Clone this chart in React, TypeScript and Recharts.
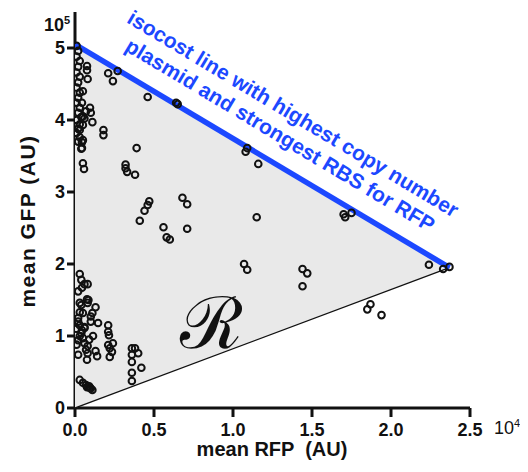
import React from 'react'
import { ScatterChart, Scatter, XAxis, YAxis } from 'recharts'

// RFP in units of 10^4, GFP in units of 10^5
const xTicks = [0, 0.5, 1, 1.5, 2, 2.5]
const yTicks = [0, 1, 2, 3, 4, 5]

// isocost corners
const isoTop = { x: 0, y: 5.05 }
const isoEnd = { x: 2.37, y: 1.95 }
const origin = { x: 0, y: 0 }

const nearAxisHigh: [number, number][] = [
  [0.01, 5.03], [0.02, 4.96], [0.01, 4.88], [0.03, 4.82], [0.02, 4.74], [0.01, 4.66],
  [0.03, 4.6], [0.02, 4.52], [0.01, 4.45], [0.03, 4.38], [0.02, 4.31], [0.01, 4.24],
  [0.03, 4.17], [0.02, 4.1], [0.04, 4.04], [0.01, 4.0], [0.03, 3.94], [0.02, 3.88],
  [0.01, 3.82], [0.03, 3.76], [0.02, 3.7], [0.076, 4.75], [0.076, 4.69], [0.08, 4.57],
  [0.05, 4.4], [0.044, 4.24], [0.095, 4.17], [0.1, 4.1], [0.11, 3.97], [0.05, 3.93],
  [0.03, 3.86], [0.05, 3.72], [0.044, 3.61], [0.044, 3.69], [0.04, 3.6], [0.05, 3.4],
  [0.057, 3.32], [0.06, 4.02], [0.07, 4.12], [0.05, 4.05],
]

const upperMid: [number, number][] = [
  [0.21, 4.65], [0.27, 4.68], [0.24, 4.54], [0.46, 4.32], [0.64, 4.24], [0.65, 4.22],
  [0.18, 3.86], [0.18, 3.79], [0.39, 3.61], [0.32, 3.38], [0.32, 3.33], [0.33, 3.28],
  [0.38, 3.24], [0.47, 2.87], [0.46, 2.82], [0.44, 2.74], [0.41, 2.6], [0.68, 2.92],
  [0.71, 2.83], [0.56, 2.51], [0.58, 2.37], [0.6, 2.34], [0.71, 2.49],
]

const rightSide: [number, number][] = [
  [1.09, 3.61], [1.08, 3.56], [1.16, 3.39], [1.15, 2.65], [1.07, 2.0], [1.09, 1.92],
  [1.44, 1.93], [1.47, 1.87], [1.44, 1.69], [1.7, 2.69], [1.71, 2.65], [1.75, 2.71],
  [2.24, 1.99], [2.33, 1.93], [2.37, 1.96], [1.87, 1.44], [1.85, 1.37], [1.94, 1.29],
]

const nearAxisLow: [number, number][] = [
  [0.03, 1.86], [0.04, 1.78], [0.08, 1.72], [0.044, 1.67], [0.06, 1.72], [0.02, 1.62],
  [0.076, 1.51], [0.08, 1.46], [0.03, 1.46], [0.13, 1.4], [0.03, 1.33], [0.04, 1.43],
  [0.05, 1.32], [0.11, 1.32], [0.02, 1.25], [0.146, 1.18], [0.21, 1.15], [0.21, 1.06],
  [0.215, 1.01], [0.24, 0.9], [0.21, 0.875], [0.22, 0.83], [0.234, 0.78], [0.22, 0.71],
  [0.114, 1.0], [0.08, 0.86], [0.07, 0.81], [0.08, 0.76], [0.076, 0.67], [0.13, 0.79],
  [0.14, 0.72], [0.36, 0.83], [0.38, 0.83], [0.4, 0.76], [0.36, 0.74], [0.36, 0.64],
  [0.42, 0.56], [0.36, 0.49], [0.36, 0.375], [0.03, 0.39], [0.05, 0.35], [0.076, 0.29],
  [0.095, 0.28], [0.11, 0.25], [0.044, 1.08], [0.06, 1.125], [0.06, 1.11], [0.04, 1.04],
  [0.05, 0.97], [0.02, 1.2], [0.02, 0.94], [0.02, 0.74], [0.03, 1.15], [0.01, 1.1],
  [0.03, 1.0], [0.01, 0.88], [0.06, 0.9], [0.09, 0.95], [0.1, 1.2], [0.1, 1.27],
  [0.085, 1.5], [0.07, 0.32], [0.09, 0.3], [0.1, 0.27],
]

const points = [...nearAxisHigh, ...upperMid, ...rightSide, ...nearAxisLow].map(
  ([x, y]) => ({ x, y })
)
const region = [origin, isoTop, isoEnd]
const isocost = [isoTop, isoEnd]
const lowerEdge = [origin, isoEnd]

const BLUE = '#1c48ff'
const FONT = '"Liberation Sans", Arial, sans-serif'

const Ring = (props: any) => {
  const { cx, cy } = props
  if (cx == null || cy == null) return <g />
  return <circle cx={cx} cy={cy} r={3.3} fill="none" stroke="#111" strokeWidth={2} />
}

const NoDot = () => <g />

export default function App() {
  const tickStyle = { fill: '#111', fontSize: 18, fontWeight: 700, fontFamily: FONT }
  return (
    <div style={{ position: 'relative', width: 520, height: 464, fontFamily: FONT }}>
      <ScatterChart
        width={520}
        height={464}
        margin={{ top: 4, right: 58, left: 0, bottom: 0 }}
      >
        <XAxis
          type="number"
          dataKey="x"
          domain={[0, 2.5]}
          ticks={xTicks}
          tickFormatter={(v: number) => v.toFixed(1)}
          height={64}
          stroke="#111"
          strokeWidth={3}
          tickSize={9}
          tickMargin={6}
          tick={tickStyle}
          allowDataOverflow
        />
        <YAxis
          type="number"
          dataKey="y"
          domain={[0, 5.5]}
          ticks={yTicks}
          width={67}
          stroke="#111"
          strokeWidth={3}
          tickSize={8}
          tickMargin={2}
          tick={tickStyle}
          allowDataOverflow
        />
        <Scatter
          data={region}
          isAnimationActive={false}
          line={{ fill: '#e9e9e9', stroke: 'none' }}
          lineType="joint"
          shape={<NoDot />}
        />
        <Scatter
          data={lowerEdge}
          isAnimationActive={false}
          line={{ stroke: '#111', strokeWidth: 1.3, fill: 'none' }}
          lineType="joint"
          shape={<NoDot />}
        />
        <Scatter
          data={isocost}
          isAnimationActive={false}
          line={{ stroke: BLUE, strokeWidth: 5.5, fill: 'none' }}
          lineType="joint"
          shape={<NoDot />}
        />
        <Scatter data={points} isAnimationActive={false} shape={<Ring />} />
      </ScatterChart>

      <div
        style={{
          position: 'absolute',
          left: 120,
          top: -8,
          width: 400,
          transform: 'rotate(30.9deg)',
          transformOrigin: '0 0',
          textAlign: 'center',
          fontSize: 21,
          fontWeight: 700,
          lineHeight: '25px',
          color: BLUE,
          whiteSpace: 'nowrap',
        }}
      >
        isocost line with highest copy number
        <br />
        plasmid and strongest RBS for RFP
      </div>

      <div
        style={{
          position: 'absolute',
          left: 148,
          top: 280,
          width: 110,
          textAlign: 'center',
          fontSize: 72,
          lineHeight: '70px',
          fontFamily: '"DejaVu Serif", serif',
          color: '#111',
        }}
      >
        ℛ
      </div>

      <div
        style={{
          position: 'absolute',
          left: 20,
          top: 213,
          width: 0,
          height: 0,
        }}
      >
        <div
          style={{
            position: 'absolute',
            left: -110,
            top: -13,
            width: 220,
            textAlign: 'center',
            transform: 'rotate(-90deg)',
            fontSize: 21,
            fontWeight: 700,
            letterSpacing: 1.5,
            lineHeight: '26px',
            whiteSpace: 'nowrap',
            color: '#111',
          }}
        >
          mean GFP (AU)
        </div>
      </div>

      <div
        style={{
          position: 'absolute',
          left: 164,
          top: 430,
          width: 200,
          textAlign: 'center',
          fontSize: 20,
          fontWeight: 700,
          whiteSpace: 'pre',
          color: '#111',
        }}
      >
        {'mean RFP  (AU)'}
      </div>

      <div
        style={{
          position: 'absolute',
          left: 36,
          top: 6,
          fontSize: 18,
          fontWeight: 700,
          color: '#111',
        }}
      >
        10<sup style={{ fontSize: 11, verticalAlign: '7px' }}>5</sup>
      </div>

      <div
        style={{
          position: 'absolute',
          left: 486,
          top: 409,
          fontSize: 18,
          color: '#111',
        }}
      >
        10<sup style={{ fontSize: 11, verticalAlign: '7px' }}>4</sup>
      </div>
    </div>
  )
}
